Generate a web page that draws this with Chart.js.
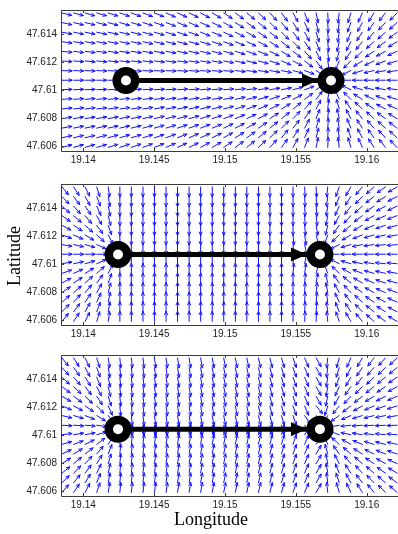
<!DOCTYPE html>
<html>
<head>
<meta charset="utf-8">
<script src="https://cdn.jsdelivr.net/npm/chart.js@4.4.1/dist/chart.umd.min.js"></script>
<style>
  html, body { margin: 0; padding: 0; background: #fff; }
  #wrap { position: relative; width: 398px; height: 534px; overflow: hidden; }
  #wrap canvas { position: absolute; left: 0; }
  .axlabel { position: absolute; font-family: "Liberation Serif", "Times New Roman", serif; font-size: 18px; line-height: 18px; color: #000; white-space: nowrap; }
</style>
</head>
<body>
<div id="wrap">
  <canvas id="panel1" width="398" height="171" style="top:0px"></canvas>
  <canvas id="panel2" width="398" height="171" style="top:174px"></canvas>
  <canvas id="panel3" width="398" height="171" style="top:345px"></canvas>
  <div class="axlabel" id="ylab" style="left:14px; top:256px; transform: translate(-50%, -50%) rotate(-90deg);">Latitude</div>
  <div class="axlabel" id="xlab" style="left:211px; top:510px; transform: translateX(-50%);">Longitude</div>
</div>
<script>
// Axis ranges and ticks
const lonRange = [19.138426, 19.162209];
const latRange = [47.605628, 47.615733];
const xTicks = [19.14, 19.145, 19.15, 19.155, 19.16];
const xTickLabels = ['19.14', '19.145', '19.15', '19.155', '19.16'];
const yTicks = [47.606, 47.608, 47.61, 47.612, 47.614];
const yTickLabels = ['47.606', '47.608', '47.61', '47.612', '47.614'];

// Quiver grid (arrow tails)
const lonGrid = [19.13850, 19.13932, 19.14013, 19.14095, 19.14176, 19.14258, 19.14339, 19.14421, 19.14502, 19.14584,
                 19.14665, 19.14747, 19.14828, 19.14910, 19.14991, 19.15073, 19.15154, 19.15236, 19.15317, 19.15399,
                 19.15480, 19.15562, 19.15643, 19.15725, 19.15806, 19.15888, 19.15969, 19.16051, 19.16132, 19.16214];
const latGrid = [47.61552, 47.61483, 47.61414, 47.61346, 47.61277, 47.61208, 47.61139, 47.61070,
                 47.61002, 47.60933, 47.60864, 47.60795, 47.60727, 47.60658, 47.60589];

// Start / goal of each run
const startPts = [{x: 19.14301, y: 47.61068}, {x: 19.14245, y: 47.61068}, {x: 19.14245, y: 47.61042}];
const goalPts  = [{x: 19.15748, y: 47.61068}, {x: 19.15670, y: 47.61068}, {x: 19.15670, y: 47.61042}];

// Arrow directions in degrees (counter-clockwise from east), one row per latGrid entry
const field1 = [
  [-14,-15,-16,-16,-17,-18,-19,-20,-21,-23,-24,-26,-28,-30,-33,-36,-39,-43,-48,-54,-61,-69,-78,-87,-97,-106,-114,-122,-128,-134],
  [-12,-13,-13,-14,-15,-16,-16,-17,-18,-20,-21,-23,-24,-26,-29,-32,-35,-39,-44,-50,-57,-66,-76,-87,-98,-109,-118,-126,-133,-138],
  [-10,-11,-11,-12,-12,-13,-14,-15,-16,-17,-18,-19,-21,-22,-25,-27,-30,-34,-39,-45,-52,-62,-73,-86,-99,-112,-123,-131,-138,-143],
  [-8,-9,-9,-10,-10,-11,-11,-12,-13,-13,-14,-15,-17,-18,-20,-22,-25,-28,-33,-38,-46,-56,-69,-85,-102,-117,-129,-138,-144,-149],
  [-6,-7,-7,-7,-8,-8,-8,-9,-10,-10,-11,-12,-13,-14,-15,-17,-19,-22,-26,-31,-38,-48,-63,-84,-106,-124,-137,-146,-152,-156],
  [-4,-4,-5,-5,-5,-5,-6,-6,-6,-7,-7,-8,-9,-9,-10,-12,-13,-15,-18,-22,-27,-37,-53,-80,-113,-135,-148,-155,-160,-163],
  [-2,-2,-2,-2,-3,-3,-3,-3,-3,-3,-4,-4,-4,-5,-5,-6,-7,-8,-9,-11,-15,-20,-33,-71,-130,-154,-163,-167,-170,-172],
  [0,0,0,0,0,0,0,0,0,0,0,0,0,0,0,0,0,0,0,0,0,0,0,0,180,180,180,180,180,180],
  [2,2,2,2,3,3,3,3,3,3,4,4,4,5,5,6,7,8,9,11,15,20,33,71,130,154,163,167,170,172],
  [4,4,5,5,5,5,6,6,6,7,7,8,9,9,10,12,13,15,18,22,27,37,53,80,113,135,148,155,160,163],
  [6,7,7,7,8,8,8,9,10,10,11,12,13,14,15,17,19,22,26,31,38,48,63,84,106,124,137,146,152,156],
  [8,9,9,10,10,11,11,12,13,13,14,15,17,18,20,22,25,28,33,38,46,56,69,85,102,117,129,138,144,149],
  [10,11,11,12,12,13,14,15,16,17,18,19,21,22,25,27,30,34,39,45,52,62,73,86,99,112,123,131,138,143],
  [12,13,13,14,15,16,16,17,18,20,21,23,24,26,29,32,35,39,44,50,57,66,76,87,98,109,118,126,133,138],
  [14,15,16,16,17,18,19,20,21,23,24,26,28,30,33,36,39,43,48,54,61,69,78,87,97,106,114,122,128,134]
];
const field2 = [
  [-51,-57,-64,-73,-82,-90,-90,-90,-90,-90,-90,-90,-90,-90,-90,-90,-90,-90,-90,-90,-90,-87,-87,-96,-109,-120,-130,-138,-145,-150],
  [-46,-53,-61,-70,-80,-90,-90,-90,-90,-90,-90,-90,-90,-90,-90,-90,-90,-90,-90,-90,-90,-87,-86,-97,-111,-123,-134,-142,-148,-153],
  [-41,-48,-56,-66,-78,-90,-90,-90,-90,-90,-90,-90,-90,-90,-90,-90,-90,-90,-90,-90,-90,-87,-85,-98,-114,-127,-138,-146,-152,-156],
  [-35,-41,-50,-61,-76,-90,-90,-90,-90,-90,-90,-90,-90,-90,-90,-90,-90,-90,-90,-90,-90,-87,-83,-100,-119,-133,-143,-151,-157,-160],
  [-28,-33,-42,-54,-71,-90,-90,-90,-90,-90,-90,-90,-90,-90,-90,-90,-90,-90,-90,-90,-90,-85,-80,-103,-125,-140,-150,-157,-162,-165],
  [-19,-24,-31,-42,-63,-90,-90,-90,-90,-90,-90,-90,-90,-90,-90,-90,-90,-90,-90,-90,-85,-82,-75,-110,-136,-150,-159,-164,-167,-170],
  [-10,-12,-16,-24,-44,-90,-90,-90,-90,-90,-90,-90,-90,-90,-90,-90,-90,-90,-90,-90,-85,-78,-65,-126,-153,-164,-169,-172,-174,-175],
  [0,0,0,0,0,0,0,0,0,0,0,0,0,0,0,0,0,0,0,0,0,0,0,180,180,180,180,180,180,180],
  [10,12,16,24,44,90,90,90,90,90,90,90,90,90,90,90,90,90,90,90,85,78,65,126,153,164,169,172,174,175],
  [19,24,31,42,63,90,90,90,90,90,90,90,90,90,90,90,90,90,90,90,85,82,75,110,136,150,159,164,167,170],
  [28,33,42,54,71,90,90,90,90,90,90,90,90,90,90,90,90,90,90,90,90,85,80,103,125,140,150,157,162,165],
  [35,41,50,61,76,90,90,90,90,90,90,90,90,90,90,90,90,90,90,90,90,87,83,100,119,133,143,151,157,160],
  [41,48,56,66,78,90,90,90,90,90,90,90,90,90,90,90,90,90,90,90,90,87,85,98,114,127,138,146,152,156],
  [46,53,61,70,80,90,90,90,90,90,90,90,90,90,90,90,90,90,90,90,90,87,86,97,111,123,134,142,148,153],
  [51,57,64,73,82,90,90,90,90,90,90,90,90,90,90,90,90,90,90,90,90,87,87,96,109,120,130,138,145,150]
];
const field3 = [
  [-52,-58,-65,-73,-82,-85,-84,-83,-82,-82,-81,-81,-80,-80,-79,-79,-78,-77,-76,-74,-71,-67,-60,-96,-105,-113,-120,-127,-132,-137],
  [-48,-54,-62,-71,-81,-85,-84,-83,-82,-82,-81,-81,-80,-80,-79,-79,-78,-77,-76,-74,-71,-67,-60,-97,-107,-116,-124,-131,-136,-141],
  [-43,-49,-58,-68,-79,-85,-84,-83,-82,-82,-81,-81,-80,-80,-79,-79,-78,-77,-76,-74,-71,-67,-60,-98,-110,-120,-129,-136,-141,-146],
  [-37,-43,-52,-63,-77,-85,-84,-83,-82,-82,-81,-81,-80,-80,-79,-79,-78,-77,-76,-74,-71,-67,-60,-99,-114,-125,-135,-142,-147,-151],
  [-30,-36,-44,-56,-73,-85,-84,-83,-82,-82,-81,-81,-80,-80,-79,-79,-78,-77,-76,-74,-71,-67,-60,-102,-120,-133,-142,-149,-153,-157],
  [-22,-27,-34,-46,-66,-85,-84,-83,-82,-82,-81,-81,-80,-80,-79,-79,-78,-77,-76,-74,-71,-67,-50,-107,-129,-143,-151,-157,-161,-163],
  [-13,-16,-21,-31,-52,-85,-84,-83,-82,-82,-81,-81,-80,-80,-79,-79,-78,-77,-76,-74,-71,-55,-40,-119,-145,-157,-163,-166,-169,-170],
  [-3,-4,-5,-8,-17,-85,-84,-83,-82,-82,-81,-81,-80,-80,-79,-79,-78,-77,-76,-74,-71,-55,-40,-156,-170,-174,-176,-177,-177,-178],
  [7,9,11,17,34,85,84,83,82,82,81,81,80,80,79,79,78,77,76,74,71,55,40,136,160,168,171,173,174,175],
  [16,20,26,37,59,85,84,83,82,82,81,81,80,80,79,79,78,77,76,74,71,67,50,113,138,151,158,163,166,168],
  [25,31,38,51,69,85,84,83,82,82,81,81,80,80,79,79,78,77,76,74,71,67,60,105,125,139,148,154,158,161],
  [33,39,47,59,74,85,84,83,82,82,81,81,80,80,79,79,78,77,76,74,71,67,60,101,117,130,139,146,151,155],
  [39,46,54,65,78,85,84,83,82,82,81,81,80,80,79,79,78,77,76,74,71,67,60,99,112,123,132,139,145,149],
  [45,51,59,69,80,85,84,83,82,82,81,81,80,80,79,79,78,77,76,74,71,67,60,97,108,118,127,134,139,144],
  [49,56,63,72,81,85,84,83,82,82,81,81,80,80,79,79,78,77,76,74,71,67,60,96,106,115,122,129,135,139]
];

const ARROW_LEN = 10;
const HEAD_LEN = 3.5;
const HEAD_ANG = 24 * Math.PI / 180;
const RING_OUTER = 13.5;

// draws the normalised vector field under the datasets
const quiverPlugin = {
  id: 'quiver',
  beforeDatasetsDraw(chart, args, opts) {
    const field = opts.field || [];
    const xs = chart.scales.x, ys = chart.scales.y;
    const ctx = chart.ctx;
    ctx.save();
    ctx.strokeStyle = '#1010ff';
    ctx.lineWidth = 1;
    ctx.lineCap = 'round';
    field.forEach((row, r) => {
      row.forEach((deg, c) => {
        const x0 = xs.getPixelForValue(lonGrid[c]);
        const y0 = ys.getPixelForValue(latGrid[r]);
        const a = deg * Math.PI / 180;
        const x1 = x0 + ARROW_LEN * Math.cos(a);
        const y1 = y0 - ARROW_LEN * Math.sin(a);
        ctx.beginPath();
        ctx.moveTo(x0, y0);
        ctx.lineTo(x1, y1);
        const back = a + Math.PI;
        ctx.moveTo(x1 + HEAD_LEN * Math.cos(back - HEAD_ANG), y1 - HEAD_LEN * Math.sin(back - HEAD_ANG));
        ctx.lineTo(x1, y1);
        ctx.lineTo(x1 + HEAD_LEN * Math.cos(back + HEAD_ANG), y1 - HEAD_LEN * Math.sin(back + HEAD_ANG));
        ctx.stroke();
      });
    });
    ctx.restore();
  }
};

// box, inward ticks and the head of the path arrow
const framePlugin = {
  id: 'frame',
  afterDatasetsDraw(chart, args, opts) {
    const {ctx, chartArea: a} = chart;
    const xs = chart.scales.x, ys = chart.scales.y;
    ctx.save();
    // path arrow head, tip against the goal ring
    const g = opts.goal;
    const gx = xs.getPixelForValue(g.x), gy = ys.getPixelForValue(g.y);
    const tip = gx - RING_OUTER + 0.5;
    ctx.fillStyle = '#000';
    ctx.beginPath();
    ctx.moveTo(tip, gy);
    ctx.lineTo(tip - 16, gy - 7);
    ctx.lineTo(tip - 16, gy + 7);
    ctx.closePath();
    ctx.fill();

    ctx.strokeStyle = '#3c3c3c';
    ctx.lineWidth = 1;
    ctx.beginPath();
    ctx.moveTo(a.left + 0.5, a.top + 0.5);
    ctx.lineTo(a.right, a.top + 0.5);
    ctx.moveTo(a.left + 0.5, a.top);
    ctx.lineTo(a.left + 0.5, a.bottom + 0.5);
    ctx.lineTo(a.right, a.bottom + 0.5);
    xTicks.forEach(v => {
      const px = Math.round(xs.getPixelForValue(v)) + 0.5;
      ctx.moveTo(px, a.bottom);
      ctx.lineTo(px, a.bottom - 3);
      ctx.moveTo(px, a.top);
      ctx.lineTo(px, a.top + 3);
    });
    yTicks.forEach(v => {
      const py = Math.round(ys.getPixelForValue(v)) + 0.5;
      ctx.moveTo(a.left, py);
      ctx.lineTo(a.left + 3, py);
    });
    ctx.stroke();
    ctx.restore();
  }
};

const tickFont = { family: 'Liberation Sans, Arial, sans-serif', size: 10 };

function makePanel(id, field, start, goal) {
  return new Chart(document.getElementById(id), {
    type: 'scatter',
    data: {
      datasets: [
        {
          type: 'line',
          data: [start, goal],
          borderColor: '#000',
          borderWidth: 5,
          pointRadius: 0,
          order: 1
        },
        {
          // start / goal rings
          data: [start, goal],
          pointRadius: 9.25,
          borderWidth: 8.5,
          pointBorderColor: '#000',
          pointBackgroundColor: '#fff',
          order: 0
        }
      ]
    },
    options: {
      responsive: false,
      animation: false,
      devicePixelRatio: 1,
      layout: { autoPadding: false, padding: { top: 7, right: 0, left: 0, bottom: 0 } },
      plugins: {
        legend: { display: false },
        tooltip: { enabled: false },
        quiver: { field },
        frame: { goal }
      },
      scales: {
        x: {
          type: 'linear',
          min: lonRange[0],
          max: lonRange[1],
          afterBuildTicks: s => { s.ticks = xTicks.map(v => ({ value: v })); },
          afterFit: s => { s.height = 20; },
          grid: { display: false, drawTicks: false },
          border: { display: false },
          ticks: { padding: 3, font: tickFont, color: '#222', maxRotation: 0, autoSkip: false,
                   callback: (v, i) => xTickLabels[i] }
        },
        y: {
          type: 'linear',
          min: latRange[0],
          max: latRange[1],
          afterBuildTicks: s => { s.ticks = yTicks.map(v => ({ value: v })); },
          afterFit: s => { s.width = 61; },
          grid: { display: false, drawTicks: false },
          border: { display: false },
          ticks: { padding: 4, font: tickFont, color: '#222', autoSkip: false,
                   callback: (v, i) => yTickLabels[i] }
        }
      }
    },
    plugins: [quiverPlugin, framePlugin]
  });
}

makePanel('panel1', field1, startPts[0], goalPts[0]);
makePanel('panel2', field2, startPts[1], goalPts[1]);
makePanel('panel3', field3, startPts[2], goalPts[2]);
</script>
</body>
</html>
